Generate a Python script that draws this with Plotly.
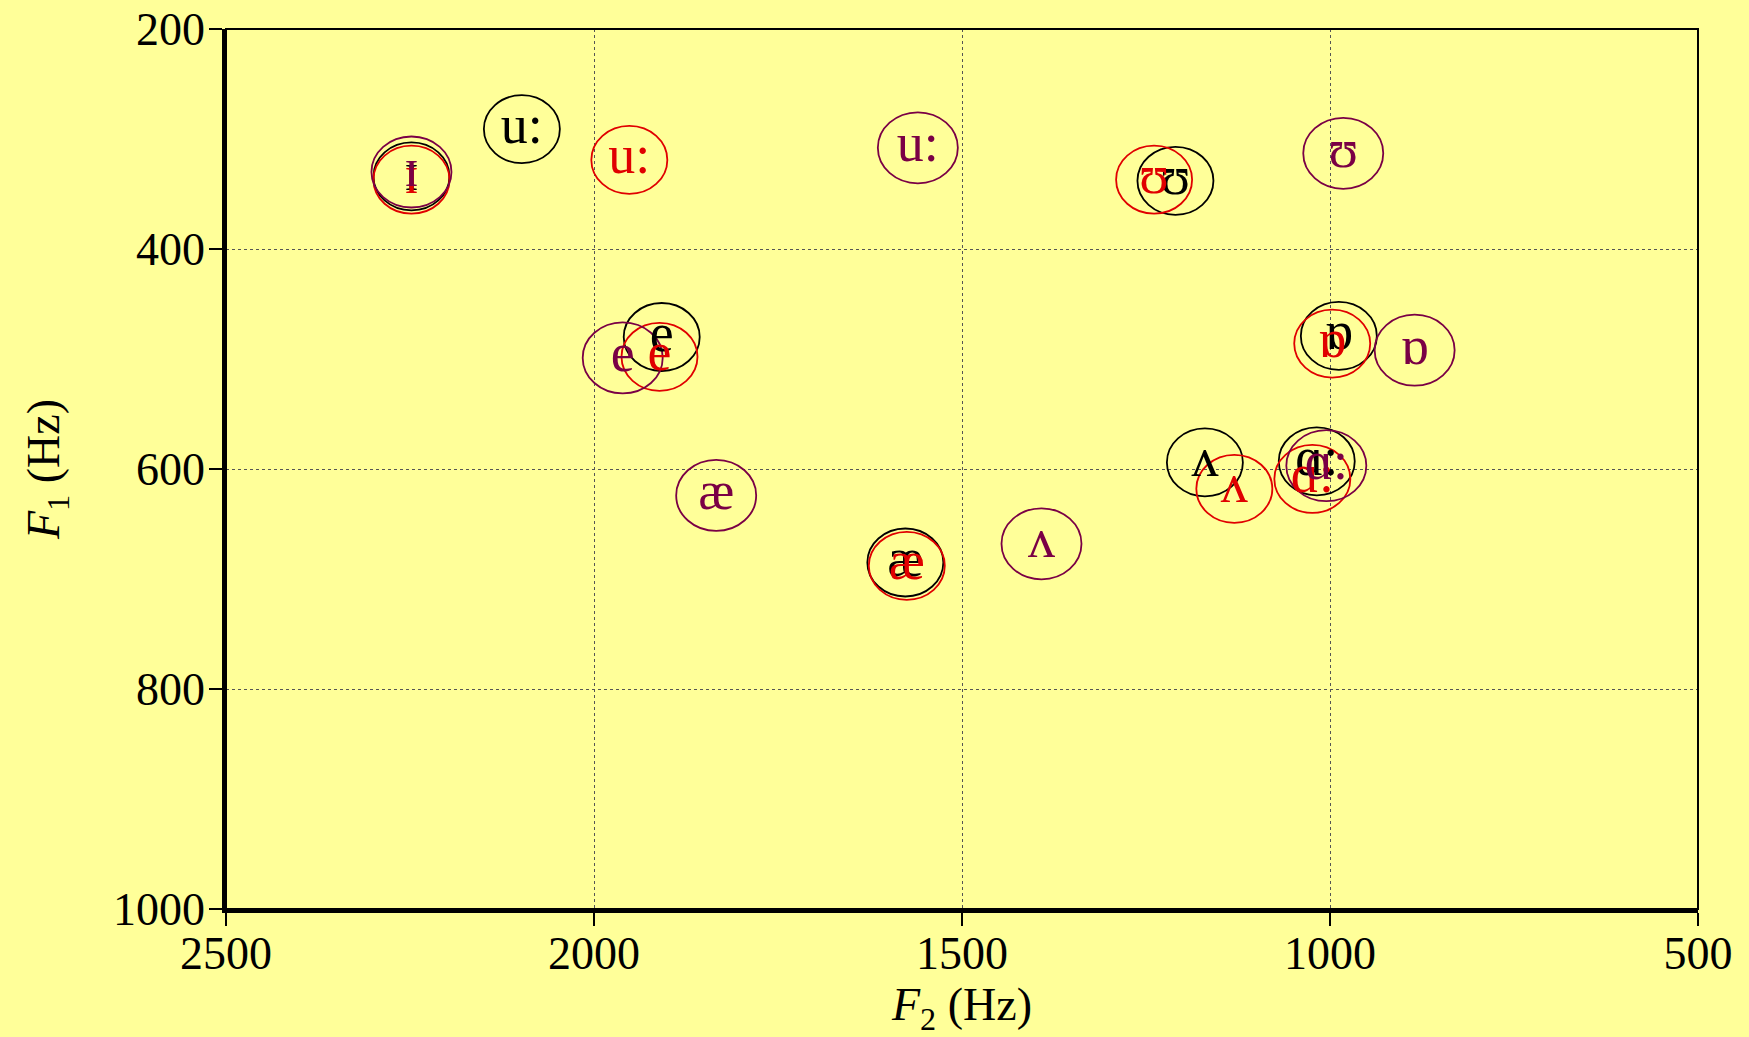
import plotly.graph_objects as go

# Vowel formant data (F2, F1 in Hz)
black_vowels = ["u:", "ɪ", "e", "æ", "ʊ", "ʌ", "ɑ:", "ɒ"]
black_f2 = [2098, 2248, 1908, 1577, 1210, 1170, 1018, 988]
black_f1 = [291, 334, 480, 685, 338, 594, 593, 479]

red_vowels = ["ɪ", "u:", "e", "æ", "ʊ", "ʌ", "ɑ:", "ɒ"]
red_f2 = [2248, 1952, 1911, 1575, 1239, 1130, 1024, 997]
red_f1 = [337, 319, 498, 688, 337, 618, 609, 486]

purple_vowels = ["ɪ", "u:", "e", "æ", "ʌ", "ʊ", "ɑ:", "ɒ"]
purple_f2 = [2248, 1560, 1961, 1834, 1392, 982, 1005, 885]
purple_f1 = [330, 308, 499, 624, 668, 313, 597, 492]

x_ticks = [2500, 2000, 1500, 1000, 500]
y_ticks = [200, 400, 600, 800, 1000]

SERIF = "Liberation Serif, Times New Roman, serif"
BG = "#FFFF99"
series = [
    ("black", black_vowels, black_f2, black_f1, "#000000", 38, 34),
    ("red", red_vowels, red_f2, red_f1, "#E00000", 38, 34),
    ("purple", purple_vowels, purple_f2, purple_f1, "#7A0045", 40, 35.5),
]

fig = go.Figure()
shapes = []
for name, labels, xs, ys, col, rx, ry in series:
    fig.add_trace(go.Scatter(
        x=xs, y=ys, mode="text", text=labels, name=name,
        textposition="middle center",
        textfont=dict(family=SERIF, size=54, color=col),
        showlegend=False, hoverinfo="x+y+text",
    ))
    for xv, yv in zip(xs, ys):
        shapes.append(dict(
            type="circle", xref="x", yref="y",
            xsizemode="pixel", ysizemode="pixel",
            xanchor=xv, yanchor=yv,
            x0=-rx, x1=rx, y0=-ry, y1=ry,
            line=dict(color=col, width=1.8),
            layer="between",
        ))

# frame (top/right thinner)
shapes.append(dict(type="rect", xref="paper", yref="paper", x0=0, x1=1, y0=0, y1=1,
                   line=dict(color="black", width=2), layer="above"))

axis_common = dict(
    showline=True, linecolor="black", linewidth=3.5, mirror=False,
    ticks="outside", ticklen=13, tickwidth=2, tickcolor="black",
    showgrid=True, gridcolor="#555555", gridwidth=1.2, griddash="dot",
    zeroline=False,
    tickfont=dict(family=SERIF, size=46, color="black"),
)

fig.update_layout(
    width=1749, height=1037,
    paper_bgcolor=BG, plot_bgcolor=BG,
    margin=dict(l=226, r=51, t=29, b=128),
    shapes=shapes,
    xaxis=dict(range=[2500, 500], tickvals=x_ticks, ticktext=[str(v) for v in x_ticks],
               ticklabelstandoff=-12,
               title=dict(text="<i>F</i><sub>2</sub> (Hz)", standoff=22,
                          font=dict(family=SERIF, size=46, color="black")),
               automargin=False, **axis_common),
    yaxis=dict(range=[1000, 200], tickvals=y_ticks, ticktext=[str(v) for v in y_ticks],
               ticklabelstandoff=-5,
               title=dict(text="<i>F</i><sub>1</sub> (Hz)", standoff=40,
                          font=dict(family=SERIF, size=46, color="black")),
               automargin=False, **axis_common),
)

fig.write_html("out.html", config={"displayModeBar": False},
               post_script="document.body.style.margin='0';document.body.style.overflow='hidden';")
